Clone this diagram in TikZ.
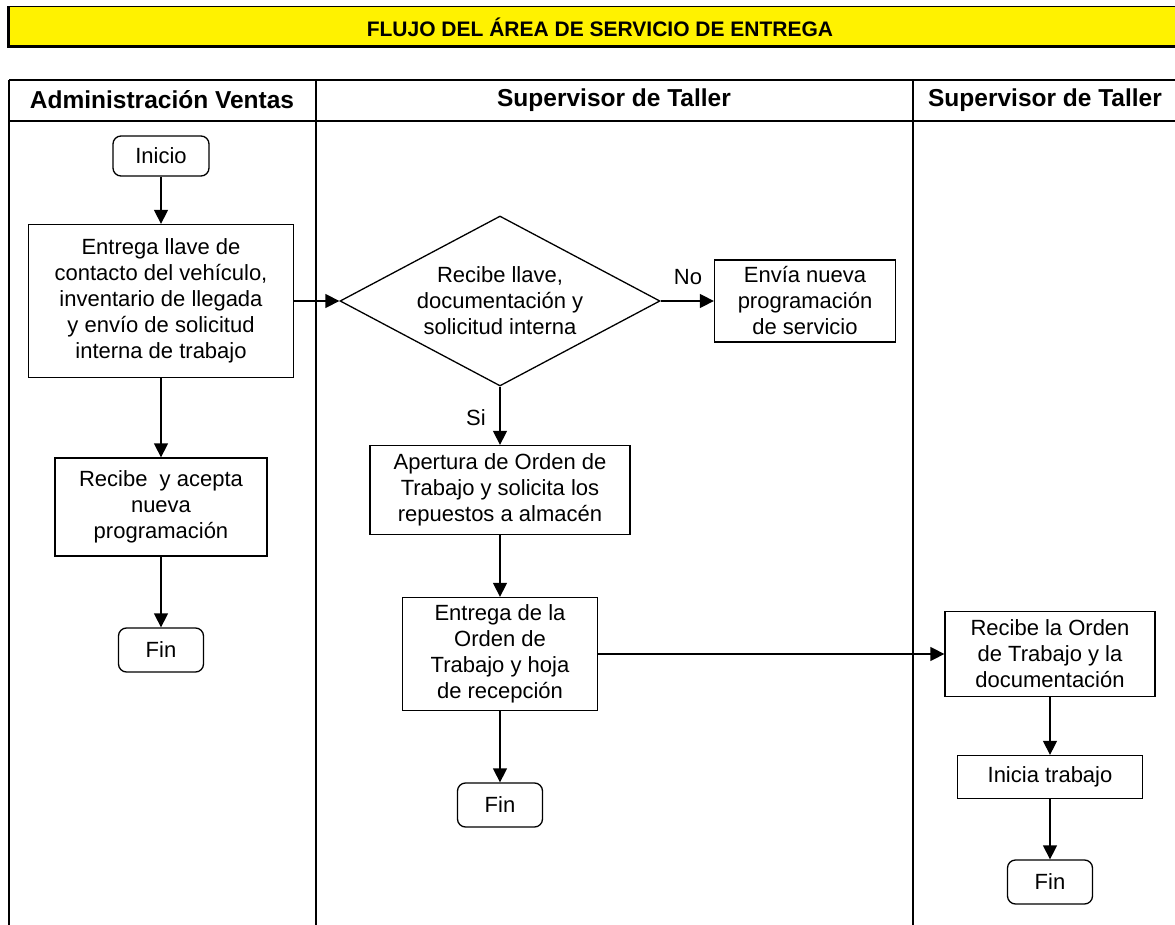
\documentclass[tikz,border=0pt]{standalone}
\usepackage{fontspec}
\setmainfont{Liberation Sans}
\usetikzlibrary{arrows.meta, shapes.geometric}

\begin{document}
\begin{tikzpicture}[x=1pt, y=-1pt, >={Triangle[length=14pt, width=14pt]},
    every node/.style={font=\fontsize{22}{26}\selectfont, align=center, inner sep=0pt},
    caja/.style 2 args={draw, line width=1.3pt, minimum width=#1pt, minimum height=#2pt},
    terminal/.style={draw, line width=1.3pt, rounded corners=8pt, minimum width=#1pt, minimum height=44pt},
    decision/.style={draw, line width=1.3pt, diamond, minimum width=320pt, minimum height=170pt},
    encabezado/.style={font=\bfseries\fontsize{24.5}{28}\selectfont},
    flecha/.style={->, line width=1.4pt}]
    \useasboundingbox (0,0) rectangle (1175,925);

    % titulo
    \draw [fill=yellow, line width=1pt] (7,7) rectangle (1175,47);
    \draw [line width=3pt] (8,7) -- (8,47) -- (1175,47);
    \node [font=\bfseries\fontsize{21}{25}\selectfont] (titulo) at (600,27) {FLUJO DEL ÁREA DE SERVICIO DE ENTREGA};

    % carriles
    \draw [line width=2pt] (9,80) -- (1175,80);
    \draw [line width=2pt] (9,121) -- (1175,121);
    \foreach \x in {9, 316, 913} {
      \draw [line width=2pt] (\x,80) -- (\x,925);
    }
    \node [encabezado] (ventas) at (162,100) {Administración Ventas};
    \node [encabezado] (taller) at (614,100) {Supervisor de Taller};
    \node [encabezado] (taller2) at (1045,100) {Supervisor de Taller};

    % Administracion Ventas
    \node [terminal=96, minimum height=40pt] (inicio) at (161,156) {Inicio};
    \node [caja={265}{153}] (entrega) at (161,301) {Entrega llave de\\contacto del vehículo,\\inventario de llegada\\y envío de solicitud\\interna de trabajo};
    \node [caja={212}{98}] (acepta) at (161,507) {Recibe \ y acepta\\nueva\\programación};
    \node [terminal=85] (fin1) at (161,650) {Fin};

    % Supervisor de Taller
    \node [decision] (recibe) at (500,301) {};
    \node (recibetxt) at (recibe) {Recibe llave,\\documentación y\\solicitud interna};
    \node [caja={181}{82}] (envia) at (805,301) {Envía nueva\\programación\\de servicio};
    \node [caja={260}{89}] (apertura) at (500,490) {Apertura de Orden de\\Trabajo y solicita los\\repuestos a almacén};
    \node [caja={195}{113}] (orden) at (500,654) {Entrega de la\\Orden de\\Trabajo y hoja\\de recepción};
    \node [terminal=85] (fin2) at (500,805) {Fin};

    % Supervisor de Taller (derecha)
    \node [caja={210}{85}] (recibeorden) at (1050,654) {Recibe la Orden\\de Trabajo y la\\documentación};
    \node [caja={185}{43}] (inicia) at (1050,777) {Inicia trabajo};
    \node [terminal=85] (fin3) at (1050,882) {Fin};

    \node (no) at (688,277) {No};
    \node (si) at (476,418) {Si};

    \draw [flecha] (inicio) -- (entrega);
    \draw [flecha] (entrega) -- (acepta);
    \draw [flecha] (acepta) -- (fin1);
    \draw [flecha] (entrega) -- (recibe);
    \draw [flecha] (recibe) -- (envia);
    \draw [flecha] (recibe) -- (apertura);
    \draw [flecha] (apertura) -- (orden);
    \draw [flecha] (orden) -- (fin2);
    \draw [flecha] (orden) -- (recibeorden);
    \draw [flecha] (recibeorden) -- (inicia);
    \draw [flecha] (inicia) -- (fin3);
\end{tikzpicture}
\end{document}
